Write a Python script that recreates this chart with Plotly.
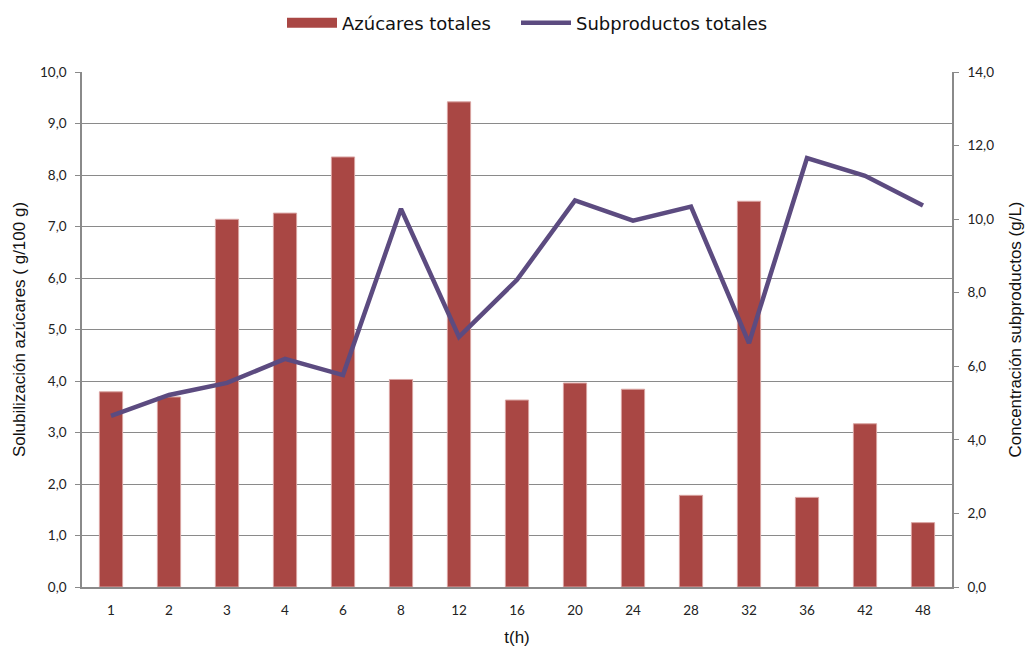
import plotly.graph_objects as go

categories = ["1", "2", "3", "4", "6", "8", "12", "16", "20", "24", "28", "32", "36", "42", "48"]
azucares = [3.79, 3.69, 7.14, 7.26, 8.35, 4.03, 9.42, 3.63, 3.96, 3.84, 1.78, 7.49, 1.74, 3.17, 1.25]
subproductos = [4.65, 5.22, 5.55, 6.20, 5.76, 10.28, 6.80, 8.35, 10.51, 9.96, 10.34, 6.63, 11.66, 11.18, 10.37]

left_ticks = [0, 1, 2, 3, 4, 5, 6, 7, 8, 9, 10]
right_ticks = [0, 2, 4, 6, 8, 10, 12, 14]

BAR = "#A94744"
LINE = "#5C4B80"
GRID = "#8A8A8A"
TICKFONT = dict(family="Lato, Open Sans, sans-serif", size=13.5, color="#222222")
TITLEFONT = dict(family="Liberation Sans, Arial, sans-serif", size=17, color="#111111")
LEGFONT = dict(family="DejaVu Sans, sans-serif", size=18, color="#111111")

fig = go.Figure()
fig.add_trace(go.Bar(
    x=categories, y=azucares, name="Azúcares totales",
    marker=dict(color=BAR, line=dict(color="#D9A3A1", width=1)),
    yaxis="y", showlegend=False,
))
# legend swatch for the bars (wide rectangle like the original)
fig.add_trace(go.Scatter(
    x=[None], y=[None], name="Azúcares totales",
    mode="lines", line=dict(color=BAR, width=11),
    yaxis="y", showlegend=True, legend="legend",
))
fig.add_trace(go.Scatter(
    x=categories, y=subproductos, name="Subproductos totales",
    mode="lines", line=dict(color=LINE, width=4.5),
    yaxis="y2", legend="legend2",
))

fig.update_layout(
    width=1027, height=647,
    margin=dict(l=82, r=75, t=72, b=60, autoexpand=False),
    paper_bgcolor="white", plot_bgcolor="white",
    separators=",.",
    bargap=0.6,
    showlegend=True,
    legend=dict(
        orientation="h", xref="container", x=282 / 1027, xanchor="left",
        yref="container", y=1 - 23 / 647, yanchor="middle",
        font=LEGFONT, itemwidth=50,
    ),
    legend2=dict(
        orientation="h", xref="container", x=516 / 1027, xanchor="left",
        yref="container", y=1 - 23 / 647, yanchor="middle",
        font=LEGFONT, itemwidth=50,
    ),
    xaxis=dict(
        type="category",
        showline=True, linecolor=GRID, linewidth=1.5,
        ticks="", showgrid=False,
        ticklabelstandoff=10,
        tickfont=TICKFONT,
        title=dict(text="t(h)", font=TITLEFONT, standoff=14),
    ),
    yaxis=dict(
        range=[0, 10], tickvals=left_ticks, tickformat=".1f",
        showline=True, linecolor=GRID, linewidth=1.5,
        ticks="outside", ticklen=5, tickcolor=GRID,
        showgrid=True, gridcolor=GRID, gridwidth=1.2,
        zeroline=False,
        tickfont=TICKFONT,
        ticklabelstandoff=6,
        title=dict(text="Solubilización azúcares ( g/100 g)", font=TITLEFONT, standoff=10),
    ),
    yaxis2=dict(
        range=[0, 14], tickvals=right_ticks, tickformat=".1f",
        overlaying="y", side="right",
        showline=True, linecolor=GRID, linewidth=1.5,
        ticks="outside", ticklen=5, tickcolor=GRID,
        showgrid=False, zeroline=False,
        tickfont=TICKFONT,
        ticklabelstandoff=6,
        title=dict(text="Concentración subproductos (g/L)", font=TITLEFONT, standoff=16),
    ),
)

fig.write_html("out.html")
